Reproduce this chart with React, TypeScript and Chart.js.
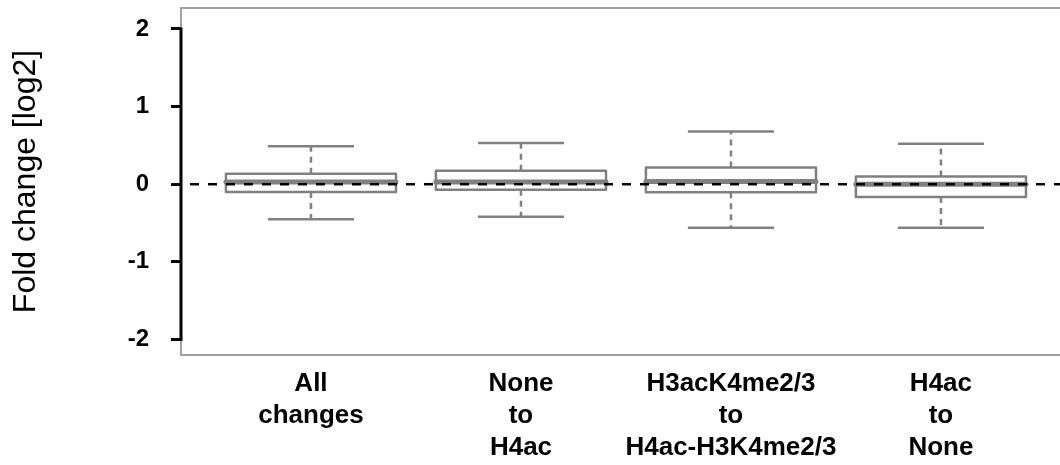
import { useEffect, useRef } from "react";
import { Chart, registerables } from "chart.js";

Chart.register(...registerables);

// ---- data ----
const categories: string[][] = [
  ["All", "changes"],
  ["None", "to", "H4ac"],
  ["H3acK4me2/3", "to", "H4ac-H3K4me2/3"],
  ["H4ac", "to", "None"],
];
const positions = [1, 2, 3, 4];
const whiskerLow = [-0.45, -0.42, -0.56, -0.56];
const q1 = [-0.1, -0.07, -0.105, -0.165];
const median = [0.03, 0.03, 0.035, 0.0];
const q3 = [0.135, 0.175, 0.215, 0.1];
const whiskerHigh = [0.49, 0.53, 0.68, 0.52];
const yTicks = [-2, -1, 0, 1, 2];
const referenceLine = 0;
const yTitle = "Fold change [log2]";

// ---- style constants ----
const FONT = "'Liberation Sans', Arial, Helvetica, sans-serif";
const BOX_HALF = 0.405; // in x units
const CAP_HALF = 0.205;
const GRAY = "#808080";

const boxPlugin = {
  id: "boxplotDraw",
  afterDraw(chart: any) {
    const { ctx, chartArea: a, scales } = chart;
    const x = scales.x;
    const y = scales.y;
    ctx.save();

    // plot frame (top, left, bottom)
    ctx.strokeStyle = "#a0a0a0";
    ctx.lineWidth = 2;
    ctx.setLineDash([]);
    ctx.beginPath();
    ctx.moveTo(a.right + 2, a.top);
    ctx.lineTo(a.left, a.top);
    ctx.lineTo(a.left, a.bottom);
    ctx.lineTo(a.right + 2, a.bottom);
    ctx.stroke();

    for (let i = 0; i < positions.length; i++) {
      const cx = x.getPixelForValue(positions[i]);
      const left = x.getPixelForValue(positions[i] - BOX_HALF);
      const right = x.getPixelForValue(positions[i] + BOX_HALF);
      const capL = x.getPixelForValue(positions[i] - CAP_HALF);
      const capR = x.getPixelForValue(positions[i] + CAP_HALF);
      const yHi = y.getPixelForValue(whiskerHigh[i]);
      const yLo = y.getPixelForValue(whiskerLow[i]);
      const yQ1 = y.getPixelForValue(q1[i]);
      const yQ3 = y.getPixelForValue(q3[i]);
      const yMed = y.getPixelForValue(median[i]);

      ctx.strokeStyle = GRAY;
      ctx.lineWidth = 2.5;
      ctx.lineCap = "butt";
      // whiskers (dashed)
      ctx.setLineDash([6, 5]);
      ctx.beginPath();
      ctx.moveTo(cx, yQ3);
      ctx.lineTo(cx, yHi);
      ctx.moveTo(cx, yQ1);
      ctx.lineTo(cx, yLo);
      ctx.stroke();
      // caps
      ctx.setLineDash([]);
      ctx.beginPath();
      ctx.moveTo(capL, yHi);
      ctx.lineTo(capR, yHi);
      ctx.moveTo(capL, yLo);
      ctx.lineTo(capR, yLo);
      ctx.stroke();
      // box
      ctx.fillStyle = "#ffffff";
      ctx.fillRect(left, yQ3, right - left, yQ1 - yQ3);
      ctx.lineJoin = "round";
      ctx.strokeRect(left, yQ3, right - left, yQ1 - yQ3);
      // median
      ctx.lineWidth = 5;
      ctx.lineCap = "round";
      ctx.beginPath();
      ctx.moveTo(left, yMed);
      ctx.lineTo(right, yMed);
      ctx.stroke();
    }

    // reference line at 0
    const y0 = y.getPixelForValue(referenceLine);
    ctx.strokeStyle = "#000000";
    ctx.lineWidth = 2.5;
    ctx.lineCap = "butt";
    ctx.setLineDash([9, 9]);
    ctx.beginPath();
    ctx.moveTo(a.left + 9, y0);
    ctx.lineTo(a.right, y0);
    ctx.stroke();

    // black y axis line between first and last tick
    ctx.setLineDash([]);
    ctx.lineWidth = 3;
    ctx.lineCap = "square";
    ctx.beginPath();
    ctx.moveTo(a.left, y.getPixelForValue(yTicks[yTicks.length - 1]));
    ctx.lineTo(a.left, y.getPixelForValue(yTicks[0]));
    ctx.stroke();

    ctx.restore();
  },
};

export default function App() {
  const ref = useRef<HTMLCanvasElement>(null);

  useEffect(() => {
    if (!ref.current) return;
    const chart = new Chart(ref.current, {
      type: "scatter",
      data: {
        datasets: [
          {
            data: positions.map((p, i) => ({ x: p, y: median[i] })),
            pointRadius: 0,
            showLine: false,
          },
        ],
      },
      options: {
        animation: false,
        responsive: false,
        devicePixelRatio: 1,
        layout: { padding: { top: 8, right: 0, bottom: 0, left: 0 } },
        plugins: { legend: { display: false }, tooltip: { enabled: false } },
        scales: {
          x: {
            type: "linear",
            min: 0.381,
            max: 4.567,
            afterBuildTicks: (s: any) => {
              s.ticks = positions.map((v) => ({ value: v }));
            },
            afterFit: (s: any) => {
              s.height = 110;
              s.paddingLeft = 0;
              s.paddingRight = 0;
            },
            grid: { display: false, drawTicks: false },
            border: { display: false },
            ticks: {
              autoSkip: false,
              maxRotation: 0,
              minRotation: 0,
              padding: 13,
              color: "#000",
              font: { family: FONT, size: 26, weight: "bold", lineHeight: 1.23 },
              callback: (_v: any, i: number) => categories[i],
            },
          },
          y: {
            type: "linear",
            min: -2.2,
            max: 2.27,
            afterBuildTicks: (s: any) => {
              s.ticks = yTicks.map((v) => ({ value: v }));
            },
            afterFit: (s: any) => {
              s.width = 181;
              s.paddingTop = 0;
              s.paddingBottom = 0;
            },
            grid: {
              drawOnChartArea: false,
              drawTicks: true,
              tickLength: 10,
              tickColor: "#000",
              tickWidth: 3,
              lineWidth: 3,
              color: "#000",
            },
            border: { display: false },
            ticks: {
              padding: 22,
              color: "#000",
              font: { family: FONT, size: 24, weight: "bold" },
              callback: (v: any) => String(v),
            },
            title: {
              display: true,
              text: yTitle,
              color: "#000",
              padding: { top: 7, bottom: 0 },
              font: { family: FONT, size: 32, weight: "normal", lineHeight: 1.2 },
            },
          },
        },
      },
      plugins: [boxPlugin],
    });
    return () => chart.destroy();
  }, []);

  return (
    <div style={{ position: "absolute", left: 0, top: 0, width: 1060, height: 465, overflow: "hidden" }}>
      <canvas ref={ref} width={1060} height={465} style={{ display: "block" }} />
    </div>
  );
}
